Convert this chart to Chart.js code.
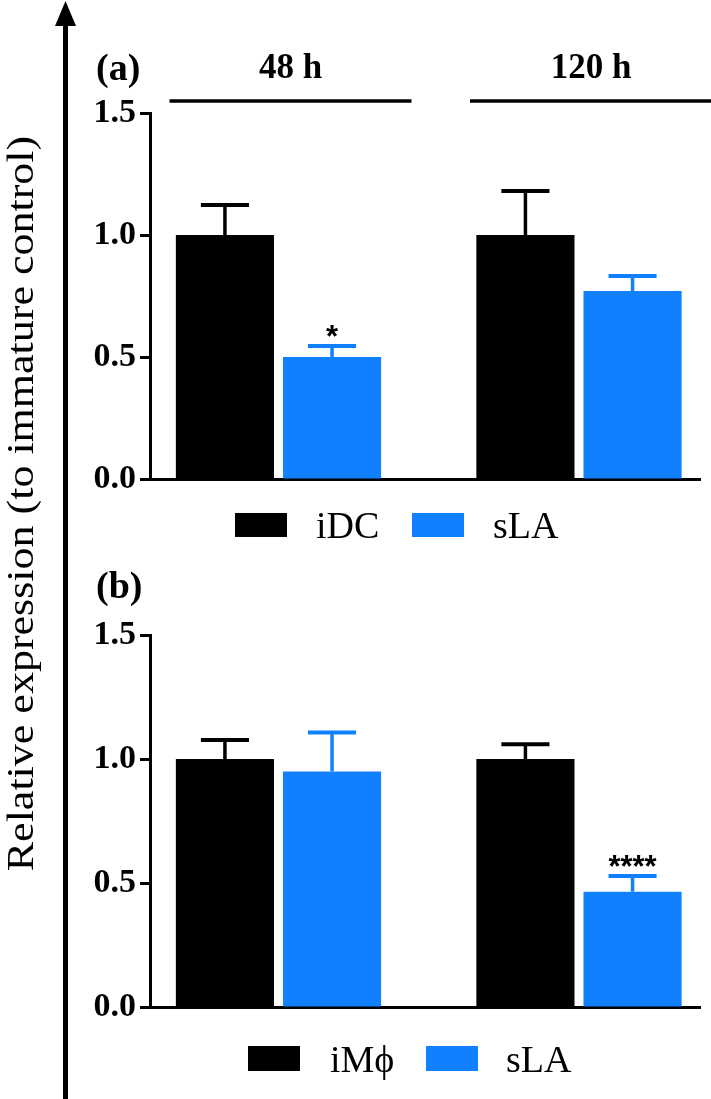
<!DOCTYPE html>
<html><head><meta charset="utf-8">
<script src="https://cdn.jsdelivr.net/npm/chart.js@4.4.0/dist/chart.umd.min.js"></script>
<style>
html,body{margin:0;padding:0;background:#fff;}
#wrap{position:relative;width:711px;height:1099px;overflow:hidden;background:#fff;}
canvas{position:absolute;left:0;}
#c1{top:0;}
#c2{top:560px;}
svg{position:absolute;left:0;top:0;pointer-events:none;}
</style></head><body>
<div id="wrap">
<canvas id="c1" width="711" height="560"></canvas>
<canvas id="c2" width="711" height="539"></canvas>
<svg id="ov" width="711" height="1099" xmlns="http://www.w3.org/2000/svg"></svg>
</div>
<script>
// ---------- data ----------
const categories = ['48 h', '120 h'];
const yTicks = [0, 0.5, 1.0, 1.5];
const yTitle = 'Relative expression (to immature control)';

const seriesA = ['iDC', 'sLA'];
const iDC = [1.0, 1.0];
const iDC_sem = [0.123, 0.18];
const sLA_a = [0.50, 0.77];
const sLA_a_sem = [0.045, 0.062];
const sigA_iDC = ['', ''];
const sigA_sLA = ['*', ''];

const seriesB = ['iM\u03D5', 'sLA'];
const iMphi = [1.0, 1.0];
const iMphi_sem = [0.077, 0.059];
const sLA_b = [0.95, 0.465];
const sLA_b_sem = [0.157, 0.063];
const sigB_iM = ['', ''];
const sigB_sLA = ['', '****'];

const BLACK = '#000000';
const BLUE = '#1180FF';
const SERIF = '"Liberation Serif", "Times New Roman", Times, "DejaVu Serif", serif';

// ---------- plugins ----------
const errorBarPlugin = {
  id: 'errbars',
  afterDatasetsDraw(chart) {
    const ctx = chart.ctx;
    const y = chart.scales.y;
    chart.data.datasets.forEach((ds, di) => {
      const meta = chart.getDatasetMeta(di);
      meta.data.forEach((bar, i) => {
        const v = ds.data[i].y;
        const e = ds.sem[i];
        const yTop = y.getPixelForValue(v + e);
        const yBar = y.getPixelForValue(v);
        ctx.save();
        ctx.strokeStyle = ds.backgroundColor;
        ctx.lineWidth = 3.5;
        ctx.beginPath();
        ctx.moveTo(bar.x, yBar);
        ctx.lineTo(bar.x, yTop);
        ctx.stroke();
        ctx.lineWidth = 4;
        const half = bar.width * 0.245;
        ctx.beginPath();
        ctx.moveTo(bar.x - half, yTop);
        ctx.lineTo(bar.x + half, yTop);
        ctx.stroke();
        const s = ds.sig[i];
        if (s) {
          ctx.fillStyle = '#000';
          ctx.font = 'bold 31px "Liberation Sans", Arial, sans-serif';
          ctx.textAlign = 'center';
          ctx.textBaseline = 'alphabetic';
          ctx.fillText(s, bar.x, yTop + 1);
        }
        ctx.restore();
      });
    });
  }
};

const headerPlugin = {
  id: 'header',
  afterDraw(chart, args, opts) {
    if (!opts || !opts.show) return;
    const ctx = chart.ctx;
    const x = chart.scales.x;
    ctx.save();
    categories.forEach((c, i) => {
      const px = x.getPixelForValue(i);
      ctx.fillStyle = '#000';
      ctx.font = 'bold 35px ' + SERIF;
      ctx.textAlign = 'center';
      ctx.textBaseline = 'alphabetic';
      ctx.fillText(c, px + 12, 78);
      ctx.strokeStyle = '#000';
      ctx.lineWidth = 3.5;
      ctx.beginPath();
      ctx.moveTo(px - 109, 101);
      ctx.lineTo(px + 133, 101);
      ctx.stroke();
    });
    ctx.restore();
  }
};

function makeChart(id, names, vals, sems, sigs, padTop, padBottom, header) {
  const colors = [BLACK, BLUE];
  const datasets = names.map((n, k) => ({
    label: n,
    data: vals[k].map((v, i) => ({ x: i, y: v })),
    sem: sems[k],
    sig: sigs[k],
    backgroundColor: colors[k],
    borderWidth: 0,
    categoryPercentage: 0.713,
    barPercentage: 0.916
  }));
  return new Chart(document.getElementById(id), {
    type: 'bar',
    data: { datasets },
    plugins: [errorBarPlugin, headerPlugin],
    options: {
      responsive: false,
      animation: false,
      devicePixelRatio: 1,
      layout: { padding: { left: 0, right: 11, top: padTop, bottom: padBottom } },
      plugins: {
        legend: { display: false },
        tooltip: { enabled: false },
        header: { show: header }
      },
      scales: {
        x: {
          type: 'linear',
          offset: false,
          min: -0.4276,
          max: 1.4027,
          afterBuildTicks(s) { s.ticks = categories.map((c, i) => ({ value: i })); },
          afterFit(s) { s.height = 0; },
          ticks: { display: false },
          grid: { display: false },
          border: { display: true, color: '#000', width: 3 }
        },
        y: {
          min: 0,
          max: 1.5,
          afterBuildTicks(s) { s.ticks = yTicks.map(v => ({ value: v })); },
          afterFit(s) { s.width = 150; },
          ticks: {
            color: '#000',
            padding: 4,
            font: { family: SERIF, size: 34, weight: 'bold' },
            callback: v => Number(v).toFixed(1)
          },
          grid: { drawOnChartArea: false, drawTicks: true, tickLength: 10, tickWidth: 3, tickColor: '#000', color: '#000' },
          border: { display: true, color: '#000', width: 3 }
        }
      }
    }
  });
}

makeChart('c1', seriesA, [iDC, sLA_a], [iDC_sem, sLA_a_sem], [sigA_iDC, sigA_sLA], 113, 81, true);
makeChart('c2', seriesB, [iMphi, sLA_b], [iMphi_sem, sLA_b_sem], [sigB_iM, sigB_sLA], 75, 92, false);

// ---------- overlay: arrow axis, title, panel labels, legends ----------
const NS = 'http://www.w3.org/2000/svg';
const ov = document.getElementById('ov');
function el(tag, attrs, text) {
  const e = document.createElementNS(NS, tag);
  for (const k in attrs) e.setAttribute(k, attrs[k]);
  if (text !== undefined) e.textContent = text;
  ov.appendChild(e);
  return e;
}
el('rect', { x: 63, y: 20, width: 5, height: 1079, fill: '#000' });
el('polygon', { points: '55,26 65.5,1 76,26', fill: '#000' });
el('text', { transform: 'translate(33,503.5) rotate(-90) scale(1,0.88)', 'text-anchor': 'middle',
  'font-family': SERIF, 'font-size': 44, fill: '#000' }, yTitle);
el('text', { x: 96, y: 80, 'font-family': SERIF, 'font-size': 38, 'font-weight': 'bold', fill: '#000' }, '(a)');
el('text', { x: 96, y: 598, 'font-family': SERIF, 'font-size': 38, 'font-weight': 'bold', fill: '#000' }, '(b)');

function legend(names, boxXs, textXs, top, h) {
  const colors = [BLACK, BLUE];
  names.forEach((n, k) => {
    el('rect', { x: boxXs[k], y: top, width: 52, height: h, fill: colors[k] });
    el('text', { x: textXs[k], y: top + h + 1, 'font-family': SERIF, 'font-size': 38, fill: '#000' }, n);
  });
}
legend(seriesA, [235, 412], [316, 493], 513, 24);
legend(seriesB, [248, 426], [330, 506], 1046, 25);
</script>
</body></html>
